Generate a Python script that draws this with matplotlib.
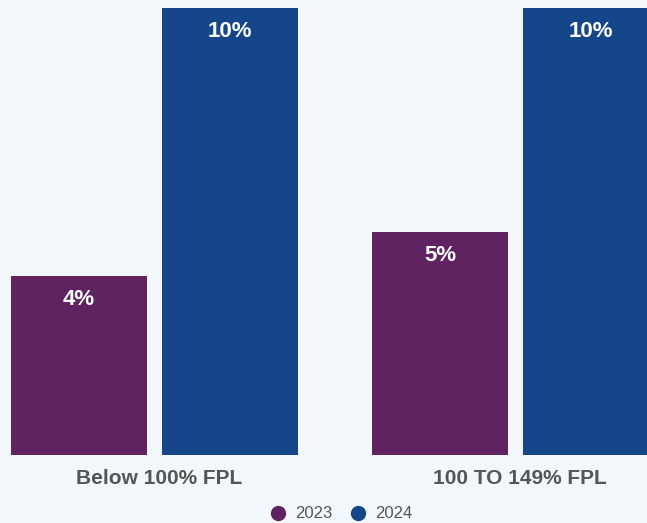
import matplotlib.pyplot as plt
from matplotlib.lines import Line2D
import numpy as np

plt.rcParams['font.family'] = ['Liberation Sans', 'DejaVu Sans']

categories = ["Below 100% FPL", "100 TO 149% FPL"]
years = ["2023", "2024"]
values_2023 = [4, 5]
values_2024 = [10, 10]
colors = ["#5f2362", "#15468a"]
bg = "#f2f7fb"

fig = plt.figure(figsize=(6.47, 5.23), dpi=100, facecolor=bg)
ax = fig.add_axes([0, 68 / 523, 1, 455 / 523], facecolor=bg)

x = np.arange(len(categories))
w = 136 / 361
off = 151 / 361 / 2
for vals, dx, c in [(values_2023, -off, colors[0]), (values_2024, off, colors[1])]:
    bars = ax.bar(x + dx, vals, width=w, color=c)
    for b, v in zip(bars, vals):
        ax.annotate(f"{v}%", (b.get_x() + b.get_width() / 2, v),
                    xytext=(0, -17), textcoords="offset points",
                    ha="center", va="center", color="white",
                    fontsize=16, fontweight="bold")

ax.set_xlim(-154.5 / 361, (647 - 154.5) / 361)
ax.set_ylim(0, 455 / 44.7)
ax.set_xticks(x + 0.012)
ax.set_xticklabels(categories, fontsize=15, fontweight="bold", color="#555555")
ax.tick_params(axis="x", length=0, pad=10)
ax.set_yticks([])
for s in ax.spines.values():
    s.set_visible(False)

handles = [Line2D([], [], marker="o", linestyle="", markersize=10,
                  markerfacecolor=c, markeredgecolor=c) for c in colors]
fig.legend(handles, years, loc="center", bbox_to_anchor=(337 / 647, 9 / 523),
           ncol=2, frameon=False, fontsize=12, handletextpad=0.05,
           columnspacing=0.5, labelcolor="#555555", borderaxespad=0)

fig.savefig("out.png", dpi=100, facecolor=bg)
